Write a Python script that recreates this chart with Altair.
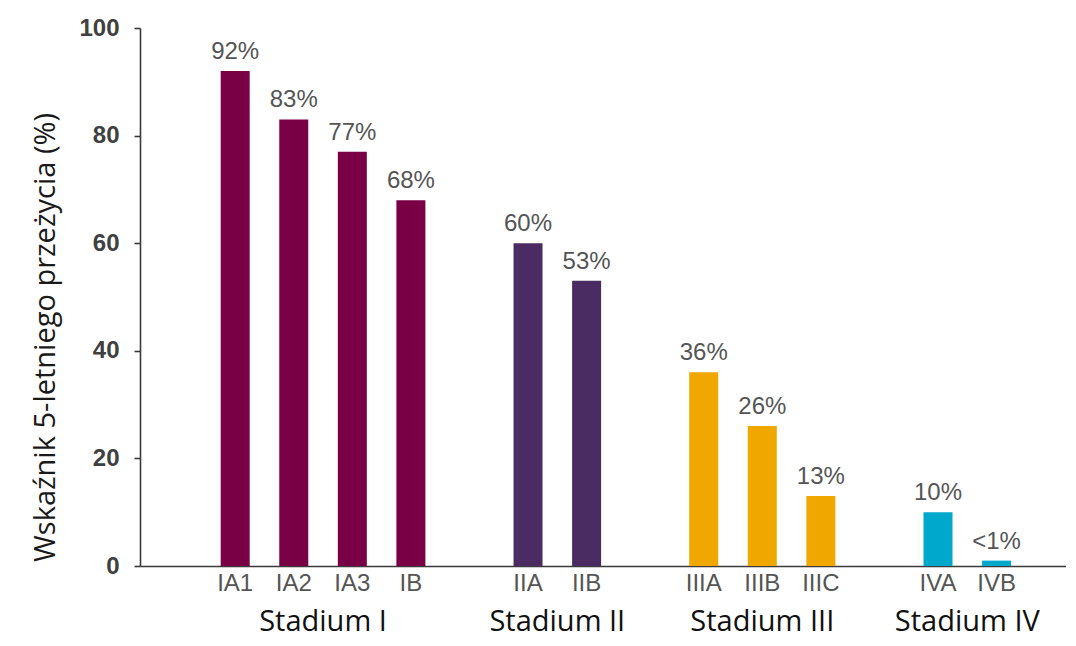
import altair as alt
import pandas as pd

# ---- data ----
stages = ["IA1", "IA2", "IA3", "IB", "IIA", "IIB", "IIIA", "IIIB", "IIIC", "IVA", "IVB"]
groups = ["Stadium I"] * 4 + ["Stadium II"] * 2 + ["Stadium III"] * 3 + ["Stadium IV"] * 2
values = [92, 83, 77, 68, 60, 53, 36, 26, 13, 10, 1]
value_labels = ["92%", "83%", "77%", "68%", "60%", "53%", "36%", "26%", "13%", "10%", "<1%"]
group_names = ["Stadium I", "Stadium II", "Stadium III", "Stadium IV"]
group_colors = ["#7A0046", "#4A2C62", "#F0A800", "#00A9CC"]
y_ticks = [0, 20, 40, 60, 80, 100]

# slot index of each bar: one empty slot between stage groups
slot = []
gi = -1
prev = None
for i, g in enumerate(groups):
    if g != prev:
        gi += 1
        prev = g
    slot.append(i + gi)

df = pd.DataFrame({"stage": stages, "group": groups, "value": values,
                   "label": value_labels, "slot": slot})

W, H = 926, 538
xscale = alt.Scale(domain=[-1.54, 14.1], nice=False, zero=False)
color = alt.Color("group:N", scale=alt.Scale(domain=group_names, range=group_colors), legend=None)

base = alt.Chart(df)

bars = base.mark_bar(size=29).encode(
    x=alt.X("slot:Q", scale=xscale,
            axis=alt.Axis(labels=False, ticks=False, grid=False, title=None,
                          domainColor="#3a3a3a", domainWidth=1.6)),
    y=alt.Y("value:Q", scale=alt.Scale(domain=[0, 100], nice=False),
            axis=alt.Axis(values=y_ticks, grid=False, tickSize=6, tickColor="#3a3a3a",
                          tickWidth=1.6, domainColor="#3a3a3a", domainWidth=1.6,
                          labelFont="Liberation Sans", labelFontWeight="bold",
                          labelFontSize=24, labelColor="#404040", labelPadding=15,
                          title="Wskaźnik 5-letniego przeżycia (%)",
                          titleFont="Open Sans", titleFontSize=29, titleFontWeight="normal",
                          titleColor="#1a1a1a", titleX=-95, titleY=309,
                          titleAngle=270, titleBaseline="middle", titleAlign="center")),
    color=color,
)

pct = base.mark_text(font="Liberation Sans", fontSize=24,
                     color="#555555", baseline="alphabetic", dy=-12).encode(
    x=alt.X("slot:Q", scale=xscale),
    y=alt.Y("value:Q"),
    text="label:N",
)

names = base.mark_text(font="Liberation Sans", fontSize=24, color="#555555",
                       baseline="middle").encode(
    x=alt.X("slot:Q", scale=xscale),
    y=alt.value(H + 18),
    text="stage:N",
)

grp = base.transform_aggregate(mid="mean(slot)", groupby=["group"]).mark_text(
    font="Open Sans", fontSize=29, color="#111111", baseline="alphabetic").encode(
    x=alt.X("mid:Q", scale=xscale),
    y=alt.value(H + 65),
    text="group:N",
)

chart = alt.layer(bars, pct, names, grp).properties(
    width=W, height=H,
    autosize=alt.AutoSizeParams(type="none"),
    padding={"left": 132, "top": 20, "right": 0, "bottom": 72},
    background="white",
).configure_view(stroke=None)

chart.save("out.html", embed_options={"renderer": "svg", "actions": False})
